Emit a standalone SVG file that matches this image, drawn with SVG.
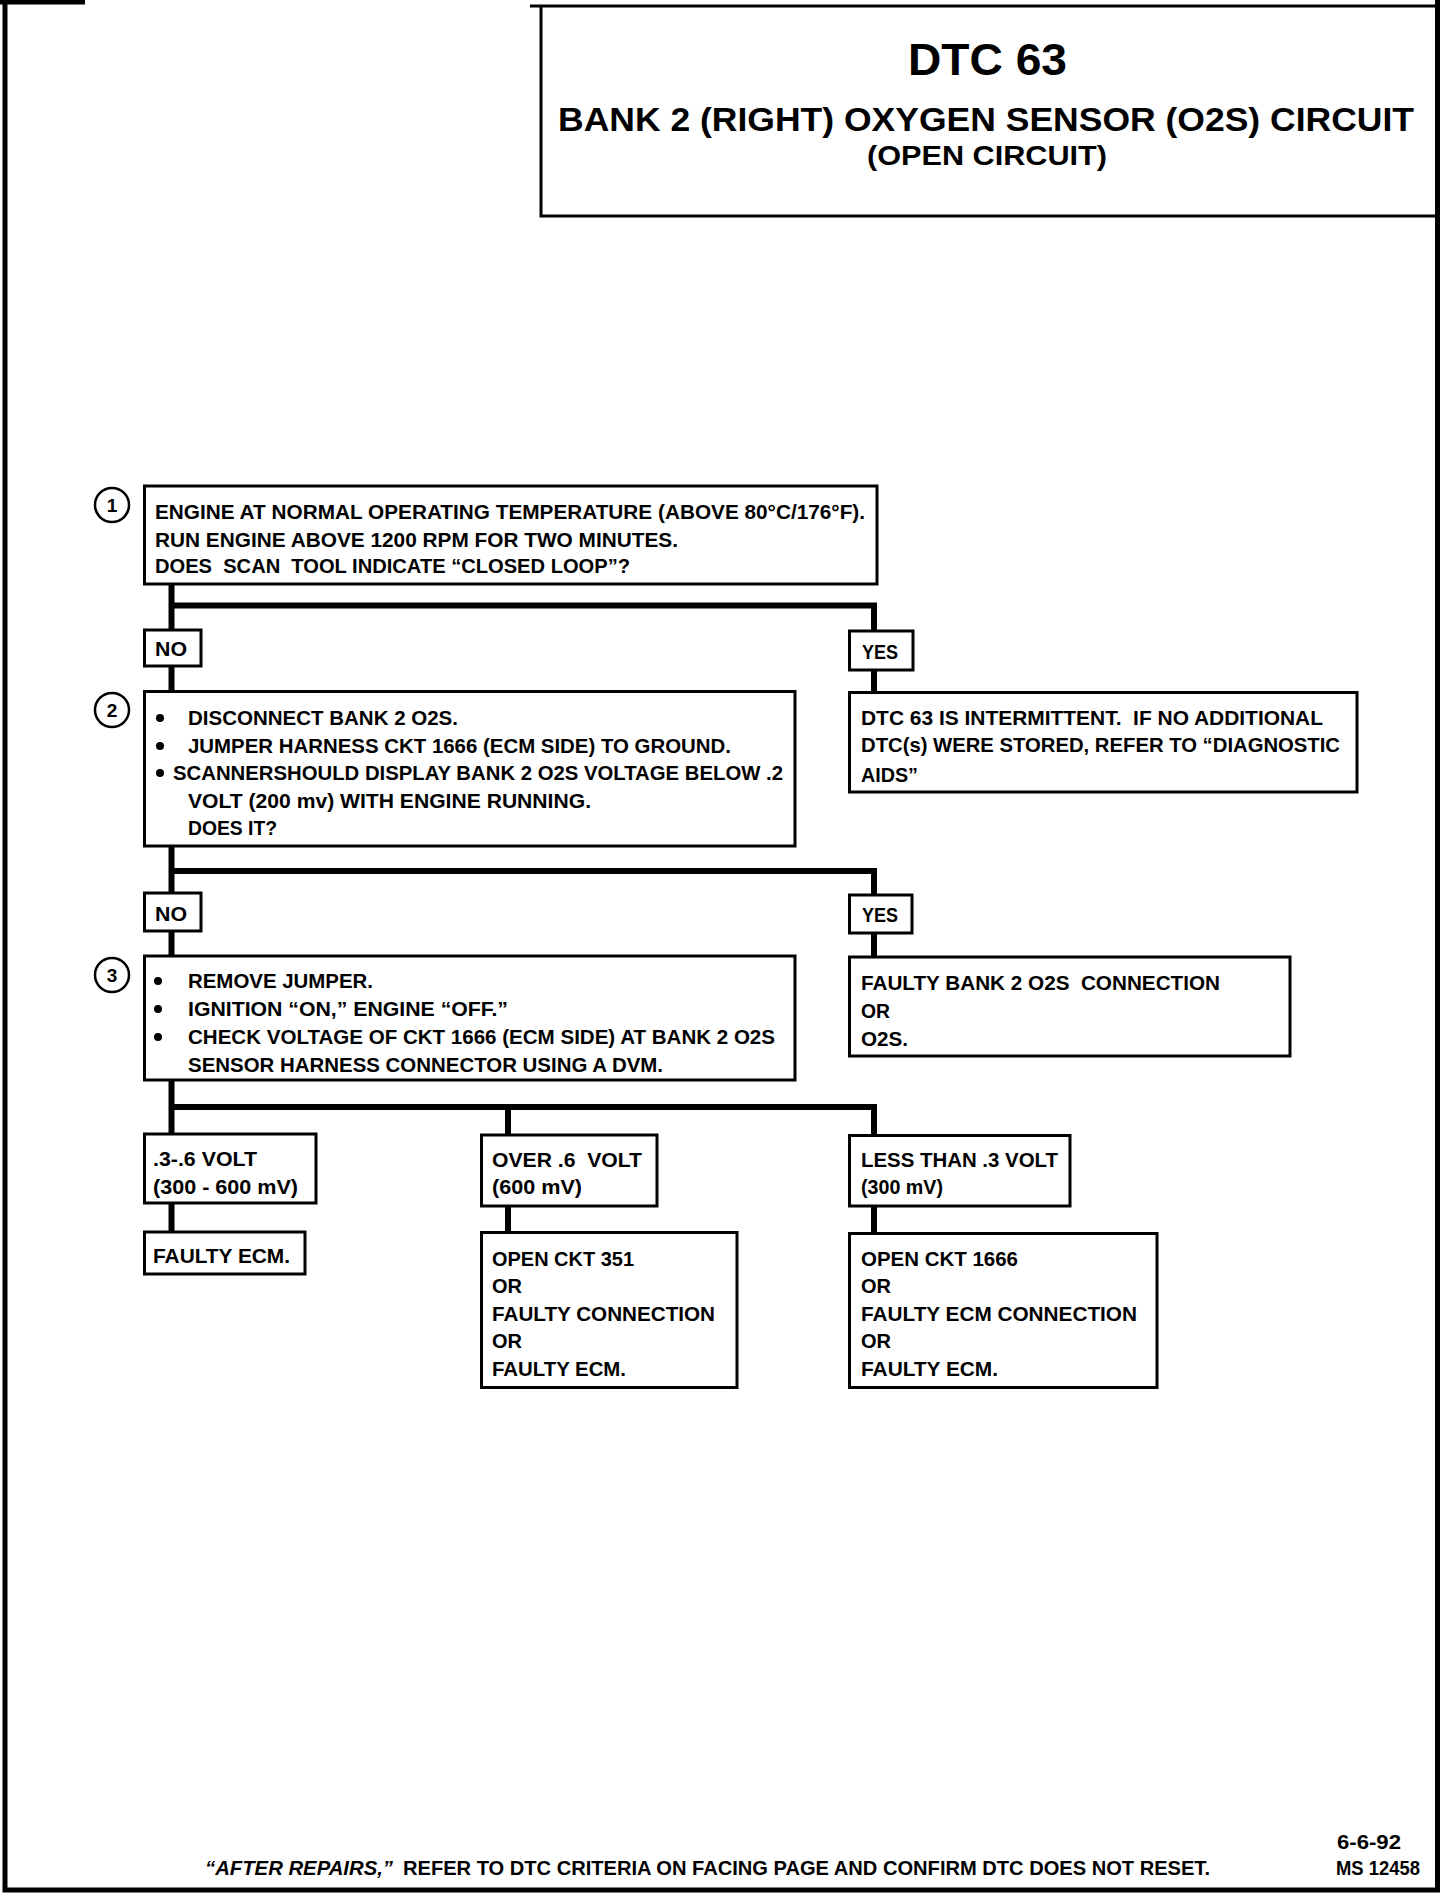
<svg xmlns="http://www.w3.org/2000/svg" width="1456" height="1898" viewBox="0 0 1456 1898">
<style>
  .bg { fill: #ffffff; }
  .box { fill: #ffffff; stroke: #000000; stroke-width: 3; }
  .frame { fill: none; stroke: #000000; stroke-width: 5; }
  .conn { fill: none; stroke: #000000; stroke-width: 6; stroke-linejoin: miter; stroke-linecap: butt; }
  .num { fill: #ffffff; stroke: #000000; stroke-width: 2.5; }
  .t { font-family: "Liberation Sans", Arial, sans-serif; font-weight: bold; font-size: 20px; fill: #000000; white-space: pre; }
  .n { font-family: "Liberation Sans", Arial, sans-serif; font-weight: bold; font-size: 19px; fill: #000000; text-anchor: middle; }
  .it { font-style: italic; }
  .bul { fill: #000000; }
</style>
<rect class="bg" x="0" y="0" width="1456" height="1898"/>

<g id="page-frame">
  <path class="frame" d="M5,0 V1890 H1437.5 V0"/>
  <path class="frame" d="M0,2 H85"/>
</g>

<g id="title">
  <path class="box" d="M530,6 H1437 M541,6 V216 H1437"/>
  <text class="t" x="908" y="75" style="font-size:44px" textLength="159" lengthAdjust="spacingAndGlyphs">DTC 63</text>
  <text class="t" x="558" y="131" style="font-size:34px" textLength="856" lengthAdjust="spacingAndGlyphs">BANK 2 (RIGHT) OXYGEN SENSOR (O2S) CIRCUIT</text>
  <text class="t" x="867" y="165" style="font-size:27px" textLength="240" lengthAdjust="spacingAndGlyphs">(OPEN CIRCUIT)</text>
</g>

<g id="connectors">
  <path class="conn" d="M171.5,584 V630"/>
  <path class="conn" d="M171.5,605.5 H874 V631"/>
  <path class="conn" d="M171.5,666 V691.5"/>
  <path class="conn" d="M874,670 V692.5"/>
  <path class="conn" d="M171.5,846 V893"/>
  <path class="conn" d="M171.5,871 H874 V895"/>
  <path class="conn" d="M171.5,931 V956"/>
  <path class="conn" d="M874,933 V957"/>
  <path class="conn" d="M171.5,1080 V1134"/>
  <path class="conn" d="M171.5,1107 H874 V1135.5"/>
  <path class="conn" d="M508,1107 V1135"/>
  <path class="conn" d="M171.5,1203 V1232"/>
  <path class="conn" d="M508,1206 V1232.5"/>
  <path class="conn" d="M874,1206 V1233.5"/>
</g>

<g id="step1">
  <circle class="num" cx="112" cy="505" r="17"/>
  <text class="n" x="112" y="512">1</text>
  <rect class="box" x="144.5" y="486" width="732.5" height="98"/>
  <text class="t" x="155" y="519" textLength="710" lengthAdjust="spacingAndGlyphs">ENGINE AT NORMAL OPERATING TEMPERATURE (ABOVE 80°C/176°F).</text>
  <text class="t" x="155" y="547" textLength="523" lengthAdjust="spacingAndGlyphs">RUN ENGINE ABOVE 1200 RPM FOR TWO MINUTES.</text>
  <text class="t" x="155" y="573" textLength="475" lengthAdjust="spacingAndGlyphs">DOES  SCAN  TOOL INDICATE “CLOSED LOOP”?</text>
</g>

<g id="no1">
  <rect class="box" x="144.5" y="630" width="56.5" height="36"/>
  <text class="t" x="155" y="656" textLength="32" lengthAdjust="spacingAndGlyphs">NO</text>
</g>

<g id="yes1">
  <rect class="box" x="849.5" y="631" width="63.5" height="39"/>
  <text class="t" x="862" y="659" textLength="36" lengthAdjust="spacingAndGlyphs">YES</text>
</g>

<g id="step2">
  <circle class="num" cx="112" cy="710" r="17"/>
  <text class="n" x="112" y="717">2</text>
  <rect class="box" x="144.5" y="691.5" width="650.5" height="154.5"/>
  <circle class="bul" cx="160" cy="718" r="4"/>
  <circle class="bul" cx="160" cy="746" r="4"/>
  <circle class="bul" cx="160" cy="773" r="4"/>
  <text class="t" x="188" y="725" textLength="270" lengthAdjust="spacingAndGlyphs">DISCONNECT BANK 2 O2S.</text>
  <text class="t" x="188" y="753" textLength="543" lengthAdjust="spacingAndGlyphs">JUMPER HARNESS CKT 1666 (ECM SIDE) TO GROUND.</text>
  <text class="t" x="173" y="780" textLength="610" lengthAdjust="spacingAndGlyphs">SCANNERSHOULD DISPLAY BANK 2 O2S VOLTAGE BELOW .2</text>
  <text class="t" x="188" y="808" textLength="403" lengthAdjust="spacingAndGlyphs">VOLT (200 mv) WITH ENGINE RUNNING.</text>
  <text class="t" x="188" y="835" textLength="89" lengthAdjust="spacingAndGlyphs">DOES IT?</text>
</g>

<g id="intermittent">
  <rect class="box" x="849.5" y="692.5" width="507.5" height="99.5"/>
  <text class="t" x="861" y="725" textLength="462" lengthAdjust="spacingAndGlyphs">DTC 63 IS INTERMITTENT.  IF NO ADDITIONAL</text>
  <text class="t" x="861" y="752" textLength="479" lengthAdjust="spacingAndGlyphs">DTC(s) WERE STORED, REFER TO “DIAGNOSTIC</text>
  <text class="t" x="861" y="782" textLength="57" lengthAdjust="spacingAndGlyphs">AIDS”</text>
</g>

<g id="no2">
  <rect class="box" x="144.5" y="893" width="56.5" height="38"/>
  <text class="t" x="155" y="921" textLength="32" lengthAdjust="spacingAndGlyphs">NO</text>
</g>

<g id="yes2">
  <rect class="box" x="849.5" y="895" width="62.5" height="38"/>
  <text class="t" x="862" y="922" textLength="36" lengthAdjust="spacingAndGlyphs">YES</text>
</g>

<g id="step3">
  <circle class="num" cx="112" cy="975" r="17"/>
  <text class="n" x="112" y="982">3</text>
  <rect class="box" x="144.5" y="956" width="650.5" height="124"/>
  <circle class="bul" cx="158" cy="981" r="4"/>
  <circle class="bul" cx="158" cy="1009" r="4"/>
  <circle class="bul" cx="158" cy="1037" r="4"/>
  <text class="t" x="188" y="988" textLength="185" lengthAdjust="spacingAndGlyphs">REMOVE JUMPER.</text>
  <text class="t" x="188" y="1016" textLength="320" lengthAdjust="spacingAndGlyphs">IGNITION “ON,” ENGINE “OFF.”</text>
  <text class="t" x="188" y="1044" textLength="587" lengthAdjust="spacingAndGlyphs">CHECK VOLTAGE OF CKT 1666 (ECM SIDE) AT BANK 2 O2S</text>
  <text class="t" x="188" y="1072" textLength="475" lengthAdjust="spacingAndGlyphs">SENSOR HARNESS CONNECTOR USING A DVM.</text>
</g>

<g id="faulty-bank">
  <rect class="box" x="849.5" y="957" width="440.5" height="99"/>
  <text class="t" x="861" y="990" textLength="359" lengthAdjust="spacingAndGlyphs">FAULTY BANK 2 O2S  CONNECTION</text>
  <text class="t" x="861" y="1018" textLength="29" lengthAdjust="spacingAndGlyphs">OR</text>
  <text class="t" x="861" y="1046" textLength="47" lengthAdjust="spacingAndGlyphs">O2S.</text>
</g>

<g id="volt-mid">
  <rect class="box" x="144.5" y="1134" width="171.5" height="69"/>
  <text class="t" x="153" y="1166" textLength="104" lengthAdjust="spacingAndGlyphs">.3-.6 VOLT</text>
  <text class="t" x="153" y="1194" textLength="145" lengthAdjust="spacingAndGlyphs">(300 - 600 mV)</text>
</g>

<g id="volt-over">
  <rect class="box" x="481.5" y="1135" width="175.5" height="71"/>
  <text class="t" x="492" y="1167" textLength="150" lengthAdjust="spacingAndGlyphs">OVER .6  VOLT</text>
  <text class="t" x="492" y="1194" textLength="90" lengthAdjust="spacingAndGlyphs">(600 mV)</text>
</g>

<g id="volt-less">
  <rect class="box" x="849.5" y="1135.5" width="220.5" height="70.5"/>
  <text class="t" x="861" y="1167" textLength="197" lengthAdjust="spacingAndGlyphs">LESS THAN .3 VOLT</text>
  <text class="t" x="861" y="1194" textLength="82" lengthAdjust="spacingAndGlyphs">(300 mV)</text>
</g>

<g id="faulty-ecm">
  <rect class="box" x="144.5" y="1232" width="160.5" height="42"/>
  <text class="t" x="153" y="1263" textLength="137" lengthAdjust="spacingAndGlyphs">FAULTY ECM.</text>
</g>

<g id="open-351">
  <rect class="box" x="481.5" y="1232.5" width="255.5" height="155"/>
  <text class="t" x="492" y="1266" textLength="142" lengthAdjust="spacingAndGlyphs">OPEN CKT 351</text>
  <text class="t" x="492" y="1293" textLength="30" lengthAdjust="spacingAndGlyphs">OR</text>
  <text class="t" x="492" y="1321" textLength="223" lengthAdjust="spacingAndGlyphs">FAULTY CONNECTION</text>
  <text class="t" x="492" y="1348" textLength="30" lengthAdjust="spacingAndGlyphs">OR</text>
  <text class="t" x="492" y="1376" textLength="134" lengthAdjust="spacingAndGlyphs">FAULTY ECM.</text>
</g>

<g id="open-1666">
  <rect class="box" x="849.5" y="1233.5" width="307.5" height="154"/>
  <text class="t" x="861" y="1266" textLength="157" lengthAdjust="spacingAndGlyphs">OPEN CKT 1666</text>
  <text class="t" x="861" y="1293" textLength="30" lengthAdjust="spacingAndGlyphs">OR</text>
  <text class="t" x="861" y="1321" textLength="276" lengthAdjust="spacingAndGlyphs">FAULTY ECM CONNECTION</text>
  <text class="t" x="861" y="1348" textLength="30" lengthAdjust="spacingAndGlyphs">OR</text>
  <text class="t" x="861" y="1376" textLength="137" lengthAdjust="spacingAndGlyphs">FAULTY ECM.</text>
</g>

<g id="footer">
  <text class="t it" x="205" y="1875" textLength="188" lengthAdjust="spacingAndGlyphs">“AFTER REPAIRS,”</text>
  <text class="t" x="403" y="1875" textLength="807" lengthAdjust="spacingAndGlyphs">REFER TO DTC CRITERIA ON FACING PAGE AND CONFIRM DTC DOES NOT RESET.</text>
  <text class="t" x="1337" y="1849" textLength="64" lengthAdjust="spacingAndGlyphs">6-6-92</text>
  <text class="t" x="1336" y="1875" textLength="84" lengthAdjust="spacingAndGlyphs">MS 12458</text>
</g>
</svg>
